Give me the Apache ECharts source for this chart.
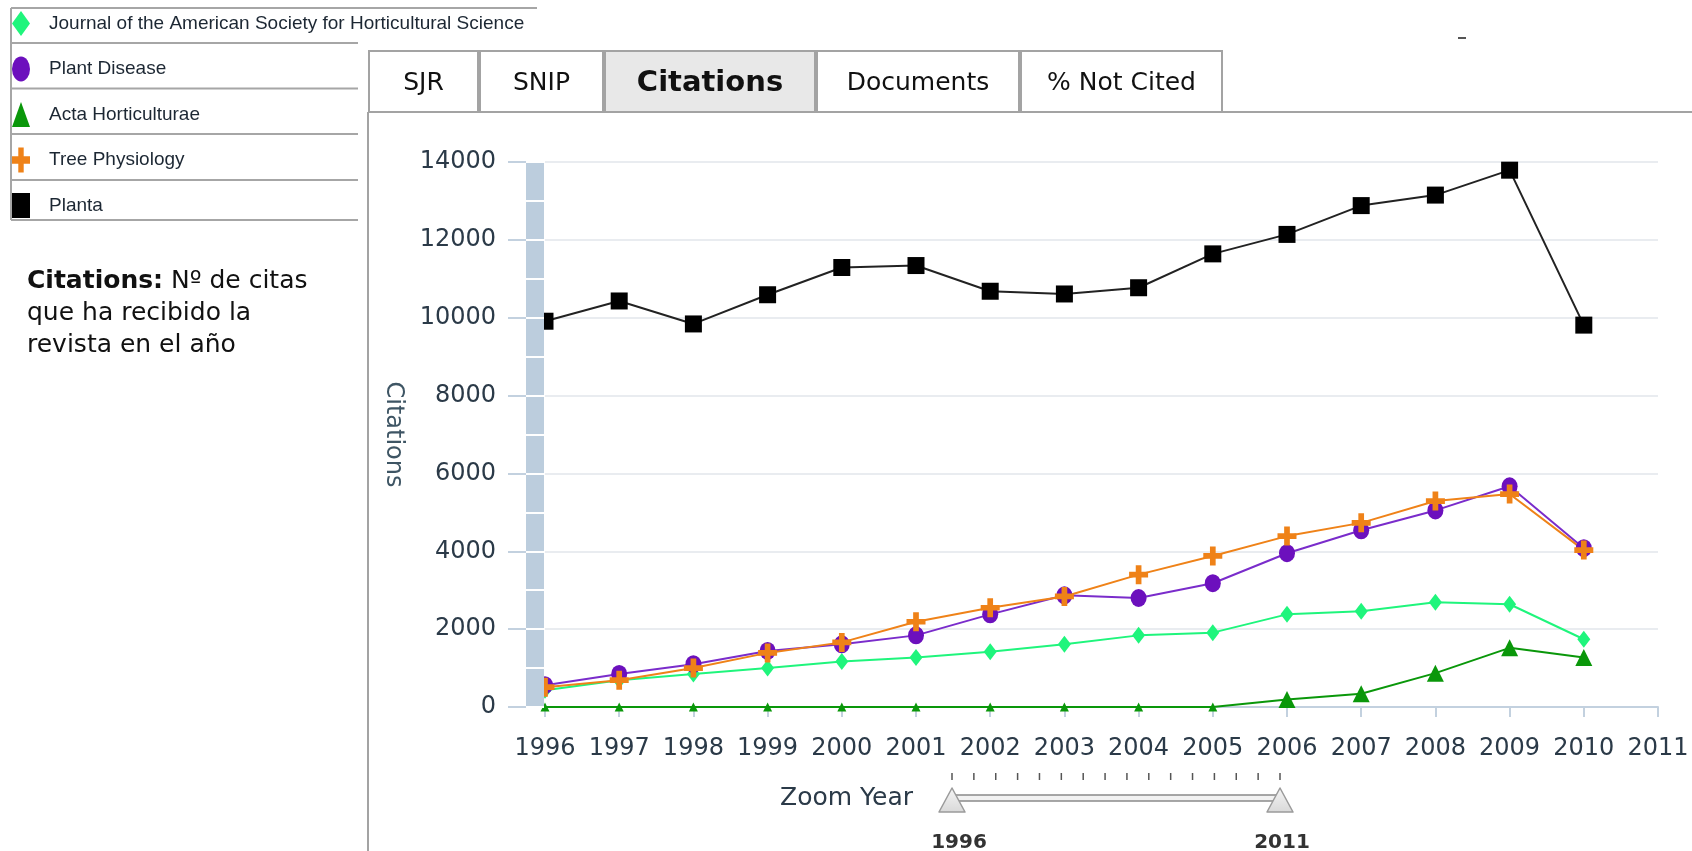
<!DOCTYPE html>
<html>
<head>
<meta charset="utf-8">
<script src="https://cdn.jsdelivr.net/npm/echarts@6/dist/echarts.min.js"></script>
<style>
  html, body { margin: 0; padding: 0; background: #fff; }
  #chart { width: 1692px; height: 851px; }
</style>
</head>
<body>
<div id="chart"></div>
<script>
// years on the x axis (the last one has no data)
const years = ["1996", "1997", "1998", "1999", "2000", "2001", "2002", "2003",
  "2004", "2005", "2006", "2007", "2008", "2009", "2010", "2011"];

const journalASHS = [430, 690, 850, 1000, 1170, 1270, 1420, 1610, 1840, 1910, 2380, 2460, 2690, 2640, 1740];
const plantDisease = [560, 850, 1100, 1440, 1610, 1840, 2380, 2870, 2800, 3180, 3950, 4540, 5050, 5670, 4080];
const actaHort = [0, 0, 0, 0, 0, 0, 0, 0, 0, 0, 190, 340, 870, 1520, 1270];
const treePhys = [510, 690, 1000, 1390, 1660, 2190, 2550, 2840, 3400, 3880, 4390, 4730, 5290, 5470, 4030];
const planta = [9910, 10430, 9840, 10590, 11290, 11340, 10680, 10610, 10770, 11640, 12140, 12880, 13150, 13790, 9810];

const tabs = ["SJR", "SNIP", "Citations", "Documents", "% Not Cited"];
const tabEdges = [368, 479, 604, 816, 1020, 1223];
const activeTab = "Citations";

const crossPath = "path://M35,0H65V35H100V65H65V100H35V65H0V35H35Z";
const ovalPath = "path://M50,0A50,50,0,1,1,50,100A50,50,0,1,1,50,0Z";
const axisFont = "DejaVu Sans";
const textCol = "#2b3a48";

const chartInstance = echarts.init(document.getElementById("chart"));

const graphic = [];

// legend frame
const lineCol = "#a6a6a6";
graphic.push({ type: "line", shape: { x1: 11, y1: 8, x2: 537, y2: 8 }, style: { stroke: lineCol, lineWidth: 2 } });
[43, 88.5, 134, 180, 220].forEach((y) => {
  graphic.push({ type: "line", shape: { x1: 11, y1: y, x2: 358, y2: y }, style: { stroke: lineCol, lineWidth: 2 } });
});
graphic.push({ type: "line", shape: { x1: 11, y1: 8, x2: 11, y2: 220 }, style: { stroke: lineCol, lineWidth: 2 } });

// description text
graphic.push({
  type: "text",
  left: 27,
  top: 265,
  style: {
    text: "{b|Citations:} Nº de citas\nque ha recibido la\nrevista en el año",
    font: "25px 'DejaVu Sans'",
    fill: "#111",
    lineHeight: 32,
    rich: { b: { fontWeight: "bold", fontSize: 25, fontFamily: "DejaVu Sans", fill: "#111" } },
  },
});

// tabs
tabs.forEach((t, i) => {
  const active = t === activeTab;
  const x0 = tabEdges[i], x1 = tabEdges[i + 1];
  graphic.push({
    type: "rect",
    shape: { x: x0 + 1, y: 51, width: x1 - x0 - 2, height: 61 },
    style: { fill: active ? "#e8e8e8" : "#fff", stroke: "#a3a3a3", lineWidth: 2 },
  });
  graphic.push({
    type: "text",
    x: (x0 + x1) / 2,
    y: 83,
    style: {
      text: t,
      fill: "#111",
      font: active ? "bold 29px 'DejaVu Sans'" : "25px 'DejaVu Sans'",
      textAlign: "center",
      textVerticalAlign: "middle",
    },
  });
});
// panel border
graphic.push({ type: "line", shape: { x1: 1223, y1: 112, x2: 1692, y2: 112 }, style: { stroke: "#a3a3a3", lineWidth: 2 } });
graphic.push({ type: "line", shape: { x1: 368, y1: 112, x2: 368, y2: 851 }, style: { stroke: "#a3a3a3", lineWidth: 2 } });
graphic.push({ type: "line", shape: { x1: 1458, y1: 38, x2: 1466, y2: 38 }, style: { stroke: "#555", lineWidth: 2 } });

// zoom year slider
const sL = 952, sR = 1280;
graphic.push({
  type: "text", x: 913, y: 798,
  style: { text: "Zoom Year", font: "25px 'DejaVu Sans'", fill: textCol, textAlign: "right", textVerticalAlign: "middle" },
});
years.forEach((y, i) => {
  const x = sL + (i * (sR - sL)) / (years.length - 1);
  graphic.push({ type: "line", shape: { x1: x, y1: 773, x2: x, y2: 780 }, style: { stroke: "#555", lineWidth: 1.5 } });
});
graphic.push({
  type: "rect", shape: { x: sL, y: 795, width: sR - sL, height: 6 },
  style: { fill: "#f2f2f2", stroke: "#8a8a8a", lineWidth: 1.5 },
});
[sL, sR].forEach((cx) => {
  graphic.push({
    type: "polygon",
    shape: { points: [[cx - 13, 812], [cx, 788], [cx + 13, 812]] },
    style: {
      fill: new echarts.graphic.LinearGradient(0, 0, 0, 1, [
        { offset: 0, color: "#f6f6f6" },
        { offset: 1, color: "#d8d8d8" },
      ]),
      stroke: "#9a9a9a",
      lineWidth: 1.5,
      lineJoin: "round",
    },
  });
});
graphic.push({
  type: "text", x: sL + 7, y: 843,
  style: { text: years[0], font: "bold 20px 'DejaVu Sans'", fill: "#333", textAlign: "center", textVerticalAlign: "middle" },
});
graphic.push({
  type: "text", x: sR + 2, y: 843,
  style: { text: years[years.length - 1], font: "bold 20px 'DejaVu Sans'", fill: "#333", textAlign: "center", textVerticalAlign: "middle" },
});

const stripAxis = (inside) => ({
  type: "value",
  position: "left",
  offset: 10,
  min: 0,
  max: 14000,
  interval: 1000,
  z: 10,
  axisLine: { show: !inside, lineStyle: { color: "#bccddd", width: 18, cap: "butt" } },
  axisTick: { show: true, inside: inside, length: 9, lineStyle: { color: "#fff", width: 2 } },
  axisLabel: { show: false },
  splitLine: { show: false },
});

const lineSeries = (name, data, color, symbol, size, lineColor) => ({
  name: name,
  type: "line",
  data: data,
  symbol: symbol,
  symbolSize: size,
  symbolKeepAspect: false,
  showAllSymbol: true,
  lineStyle: { color: lineColor || color, width: 2 },
  itemStyle: { color: color },
  emphasis: { disabled: true },
});

const option = {
  backgroundColor: "#fff",
  animation: false,
  graphic: graphic,
  legend: {
    orient: "vertical",
    left: 12,
    top: 11,
    padding: 0,
    itemWidth: 18,
    itemHeight: 25,
    itemGap: 20.5,
    symbolKeepAspect: false,
    selectedMode: false,
    textStyle: { fontFamily: "Liberation Sans", fontSize: 19, color: "#1c2733", padding: [0, 0, 0, 14] },
    data: [
      { name: "Journal of the American Society for Horticultural Science", icon: "diamond" },
      { name: "Plant Disease", icon: ovalPath },
      { name: "Acta Horticulturae", icon: "triangle" },
      { name: "Tree Physiology", icon: crossPath },
      { name: "Planta", icon: "rect" },
    ],
  },
  grid: { left: 545, right: 34, top: 162, bottom: 144 },
  xAxis: {
    type: "category",
    data: years,
    boundaryGap: false,
    axisLine: { lineStyle: { color: "#c3d1df", width: 2 } },
    axisTick: { show: true, length: 10, lineStyle: { color: "#c3d1df", width: 2 } },
    axisLabel: { interval: 0, margin: 30, fontFamily: axisFont, fontSize: 24, color: textCol },
    splitLine: { show: false },
  },
  yAxis: [
    {
      type: "value",
      position: "left",
      offset: 19,
      min: 0,
      max: 14000,
      interval: 2000,
      name: "Citations",
      nameLocation: "middle",
      nameRotate: -90,
      nameGap: 121,
      nameTextStyle: { fontFamily: axisFont, fontSize: 24, color: "#3e5564" },
      axisLine: { show: false },
      axisTick: { show: true, length: 18, lineStyle: { color: "#c3d1df", width: 2 } },
      axisLabel: { margin: 30, fontFamily: axisFont, fontSize: 24, color: textCol, formatter: (v) => String(v) },
      splitLine: { lineStyle: { color: "#e9ecf0", width: 2 } },
    },
    stripAxis(false),
    stripAxis(true),
  ],
  series: [
    lineSeries("Journal of the American Society for Horticultural Science", journalASHS, "#1ff57c", "diamond", [13, 17]),
    lineSeries("Plant Disease", plantDisease, "#6c10bd", ovalPath, [16, 18], "#7a2ccb"),
    lineSeries("Acta Horticulturae", actaHort, "#0a970a", "triangle", (v) => (v === 0 ? 9 : 17)),
    lineSeries("Tree Physiology", treePhys, "#ef8218", crossPath, 19),
    lineSeries("Planta", planta, "#000", "rect", 17, "#222"),
  ],
};

chartInstance.setOption(option);
</script>
</body>
</html>
